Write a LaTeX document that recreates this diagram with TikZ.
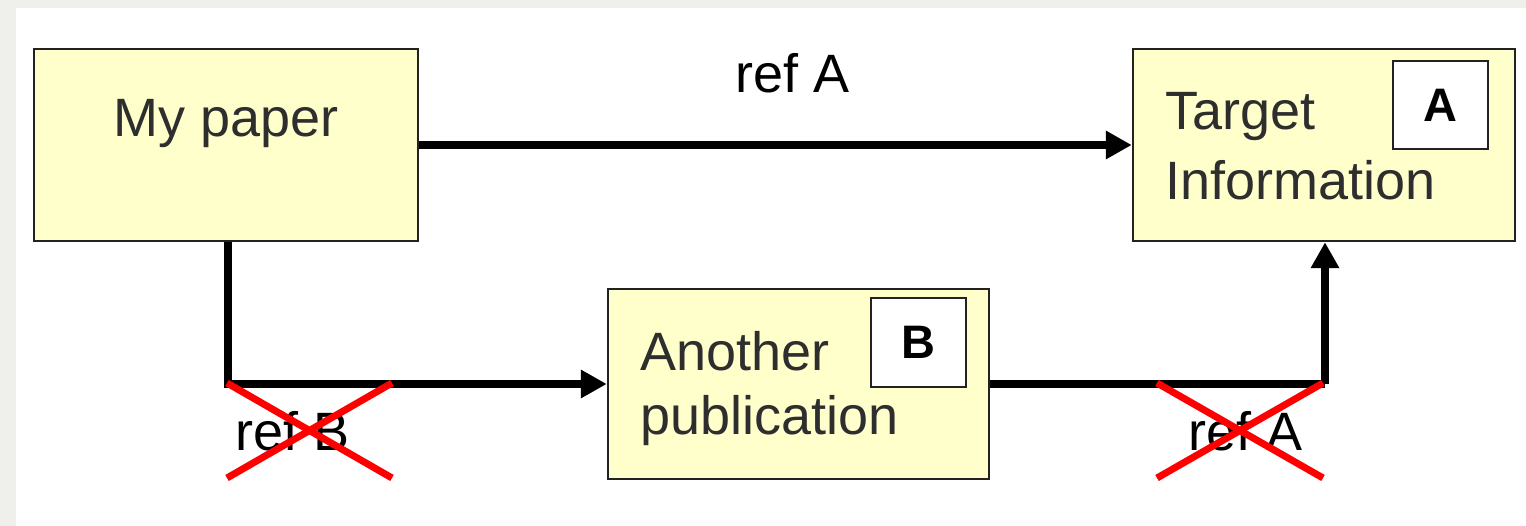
\documentclass[tikz,border=0pt]{standalone}
\usepackage{fontspec}
\setmainfont{Liberation Sans}
\usetikzlibrary{arrows.meta}
\definecolor{pagegray}{HTML}{EFEFEB}
\definecolor{boxfill}{HTML}{FFFFCC}
\definecolor{boxline}{HTML}{222222}
\definecolor{boxtext}{HTML}{2E2E2E}
\definecolor{crossred}{HTML}{FF0000}
\tikzset{
  docbox/.style={draw=boxline, line width=2.5pt, fill=boxfill, rectangle, inner sep=0pt},
  tagbox/.style={draw=boxline, line width=2.5pt, fill=white, rectangle, inner sep=0pt,
    font=\fontsize{47}{50}\selectfont\bfseries},
  boxlabel/.style={text=boxtext, inner sep=0pt, anchor=base west, align=left},
  reflabel/.style={text=black, inner sep=0pt, anchor=base west},
  link/.style={line width=7.5pt, draw=black},
  linkarrow/.style={link, -{Triangle[length=26pt, width=27pt]}},
  strike/.style={line width=7pt, draw=crossred}
}
\begin{document}
\begin{tikzpicture}[x=1pt, y=-1pt, font=\fontsize{54}{67}\selectfont]
  % page frame
  \fill[pagegray] (0,0) rectangle (1526,526);
  \fill[white] (16,8) rectangle (1526,526);
  \useasboundingbox (0,0) rectangle (1526,526);

  % documents
  \node[docbox, minimum width=384pt, minimum height=192pt] (paper) at (226,145) {};
  \node[docbox, minimum width=382pt, minimum height=192pt] (target) at (1324,145) {};
  \node[docbox, minimum width=381pt, minimum height=190pt] (another) at (798.5,384) {};
  \node[tagbox, minimum width=95pt, minimum height=88pt] (tagA) at (1440.5,105) {A};
  \node[tagbox, minimum width=95pt, minimum height=89pt] (tagB) at (918.5,342.5) {B};

  % document titles (base anchor sits on the last line)
  \node[boxlabel] (paperText) at (113,137) {My paper};
  \node[boxlabel, font=\fontsize{54}{70}\selectfont] (targetText) at (1165,200) {Target\\Information};
  \node[boxlabel, font=\fontsize{54}{65}\selectfont] (anotherText) at (640,435) {Another\\publication};

  % citation links
  \draw[linkarrow] (paper.east) -- (target.west);
  \draw[linkarrow] (paper.south -| 228,0) |- (another.west);
  \coordinate (corner) at (1325,384);
  \draw[link] (another.east) -- (corner);
  \draw[linkarrow] (corner) -- (corner |- target.south);

  % link labels
  \node[reflabel] (refTop) at (735,93) {ref A};
  \node[reflabel] (refB) at (235,450) {ref B};
  \node[reflabel] (refBottom) at (1188,450) {ref A};

  % crossed-out references
  \draw[strike] (227,383) -- (392,478);
  \draw[strike] (392,383) -- (227,478);
  \draw[strike] (1157,383) -- (1323,478);
  \draw[strike] (1323,383) -- (1157,478);
\end{tikzpicture}
\end{document}
